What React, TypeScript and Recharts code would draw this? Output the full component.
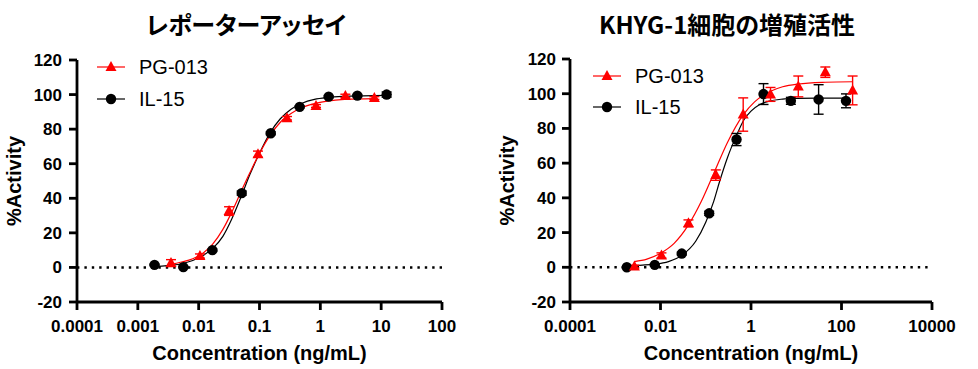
import { ComposedChart, Line, Scatter, XAxis, YAxis, ErrorBar, ReferenceLine } from 'recharts'

const RED = '#FF0000'
const BLACK = '#000000'
const FONT = '"Liberation Sans", Arial, sans-serif'
const CJK = '"Noto Sans CJK JP", "Noto Sans", sans-serif'

// --- レポーターアッセイ (measured points) ---
const reporterPgX = [0.00351, 0.0105, 0.0316, 0.0944, 0.283, 0.849, 2.58, 7.73]
const reporterPgY = [2.5, 6.6, 32.6, 65.5, 86.3, 93.4, 99.2, 98]
const reporterPgErr = [2, 1.2, 2.5, 1.8, 1, 0.8, 1, 0.8]
const reporterIlX = [0.00188, 0.0056, 0.0168, 0.051, 0.153, 0.457, 1.37, 4.06, 12.3]
const reporterIlY = [1.5, 0.2, 10, 43, 77.6, 92.9, 98.8, 99.4, 100]
const reporterIlErr = [0.4, 0.4, 0.6, 1.2, 0.8, 0.6, 0.6, 0.6, 1.5]

// fitted curves
const reporterPgFitX = [0.0035, 0.005, 0.008, 0.012, 0.017, 0.025, 0.035, 0.05, 0.07, 0.1, 0.15, 0.22, 0.33, 0.5, 0.8, 1.3, 2.5, 7.73]
const reporterPgFitY = [1.8, 3, 5, 8.5, 13.5, 22, 32, 44, 55, 66, 76.5, 84, 89, 92.5, 94.8, 96.2, 97.2, 97.7]
const reporterIlFitX = [0.00188, 0.003, 0.005, 0.008, 0.012, 0.017, 0.025, 0.035, 0.05, 0.07, 0.1, 0.15, 0.22, 0.33, 0.5, 0.8, 1.3, 2.5, 5, 12.3]
const reporterIlFitY = [0.5, 1, 2, 4, 7, 11, 18, 28, 41, 54, 66, 78, 86, 91.5, 95, 97.2, 98.3, 99, 99.3, 99.5]

// --- KHYG-1細胞の増殖活性 (measured points) ---
const khygPgX = [0.00265, 0.0105, 0.0415, 0.167, 0.672, 2.7, 11.1, 43.9, 176]
const khygPgY = [0.4, 6.8, 25.3, 53.1, 88, 99.6, 104.2, 112.4, 101.9]
const khygPgErr = [0.8, 1.5, 2, 3, 9.6, 4, 6, 3, 8.3]
const khygIlX = [0.0018, 0.00747, 0.0295, 0.119, 0.479, 1.89, 7.6, 31.2, 125.6]
const khygIlY = [0, 1.4, 7.9, 31.1, 73.6, 99.8, 95.9, 96.7, 95.9]
const khygIlErr = [0.4, 0.6, 0.8, 1.2, 3.5, 6, 2, 8.5, 4]

const khygPgFitX = [0.00265, 0.005, 0.0105, 0.02, 0.0415, 0.08, 0.15, 0.3, 0.672, 1.2, 2.7, 5, 11.1, 44, 176]
const khygPgFitY = [3.3, 4.7, 8.4, 13.8, 24.4, 38, 54, 71.8, 87.8, 95.3, 101.4, 104, 105.6, 106.6, 106.9]
const khygIlFitX = [0.0018, 0.004, 0.0075, 0.015, 0.03, 0.06, 0.1, 0.15, 0.2, 0.3, 0.479, 0.7, 1, 1.5, 2.5, 5, 10, 30, 125.6]
const khygIlFitY = [1, 1.3, 1.8, 3.3, 7, 15, 26, 38, 49, 63, 76, 85, 90, 93.5, 95.7, 96.9, 97.3, 97.5, 97.5]

const yTicks = [-20, 0, 20, 40, 60, 80, 100, 120]
const reporterXTicks = [0.0001, 0.001, 0.01, 0.1, 1, 10, 100]
const khygXTicks = [0.0001, 0.01, 1, 100, 10000]

type Pt = { x: number; y: number; err?: number }

const toPoints = (xs: number[], ys: number[], errs?: number[]): Pt[] =>
  xs.map((x, i) => ({ x, y: ys[i], err: errs ? errs[i] : undefined }))

const Circle = (props: any) => <circle cx={props.cx} cy={props.cy} r={5.2} fill={BLACK} />
const Triangle = (props: any) => {
  const { cx, cy } = props
  return <polygon points={`${cx},${cy - 6} ${cx + 5.5},${cy + 4} ${cx - 5.5},${cy + 4}`} fill={RED} />
}

function LegendMark({ color, kind }: { color: string; kind: 'tri' | 'dot' }) {
  return (
    <svg width={28} height={14} style={{ display: 'block' }}>
      <line x1={0} y1={7} x2={28} y2={7} stroke={color} strokeWidth={1.2} />
      {kind === 'tri' ? (
        <polygon points="14,1 19.5,11 8.5,11" fill={color} />
      ) : (
        <circle cx={14} cy={7} r={5.2} fill={color} />
      )}
    </svg>
  )
}

interface PanelProps {
  left: number
  title: string
  titleCenter: number
  xTicks: number[]
  yAxisWidth: number
  rightMargin: number
  topMargin: number
  yLabelOffset: number
  yTickMargin: number
  legendX: number
  legendY: number
  legendGap: number
  pg: Pt[]
  il: Pt[]
  pgFit: Pt[]
  ilFit: Pt[]
}

function Panel(p: PanelProps) {
  const tickStyle = { fill: BLACK, fontSize: 17, fontWeight: 700, fontFamily: FONT }
  return (
    <div style={{ position: 'absolute', left: p.left, top: 0, width: 489, height: 369 }}>
      <div
        style={{
          position: 'absolute',
          left: 0,
          top: 9,
          width: p.titleCenter * 2,
          textAlign: 'center',
          fontFamily: CJK,
          fontWeight: 700,
          fontSize: 24,
          lineHeight: '30px',
          fontFeatureSettings: '"palt"',
          whiteSpace: 'nowrap',
        }}
      >
        {p.title}
      </div>
      <ComposedChart
        width={489}
        height={369}
        margin={{ top: p.topMargin, right: p.rightMargin, bottom: 0, left: 0 }}
      >
        <XAxis
          type="number"
          dataKey="x"
          scale="log"
          domain={[p.xTicks[0], p.xTicks[p.xTicks.length - 1]]}
          ticks={p.xTicks}
          interval={0}
          allowDataOverflow
          height={67}
          tickSize={8}
          tickMargin={10}
          tick={tickStyle}
          axisLine={{ stroke: BLACK, strokeWidth: 2.8 }}
          tickLine={{ stroke: BLACK, strokeWidth: 2.8 }}
          label={{
            value: 'Concentration (ng/mL)',
            position: 'insideBottom',
            offset: 9,
            style: { fill: BLACK, fontSize: 20, fontWeight: 700, fontFamily: FONT },
          }}
        />
        <YAxis
          type="number"
          domain={[-20, 120]}
          ticks={yTicks}
          interval={0}
          width={p.yAxisWidth}
          tickSize={8}
          tickMargin={p.yTickMargin}
          tick={tickStyle}
          axisLine={{ stroke: BLACK, strokeWidth: 2.8 }}
          tickLine={{ stroke: BLACK, strokeWidth: 2.8 }}
          label={{
            value: '%Activity',
            angle: -90,
            position: 'insideLeft',
            offset: p.yLabelOffset,
            style: { textAnchor: 'middle', fill: BLACK, fontSize: 20, fontWeight: 700, fontFamily: FONT },
          }}
        />
        <ReferenceLine y={0} stroke={BLACK} strokeWidth={2.4} strokeDasharray="2.4 5" />
        <Line
          data={p.ilFit}
          dataKey="y"
          type="monotone"
          stroke={BLACK}
          strokeWidth={1.2}
          dot={false}
          activeDot={false}
          isAnimationActive={false}
        />
        <Line
          data={p.pgFit}
          dataKey="y"
          type="monotone"
          stroke={RED}
          strokeWidth={1.2}
          dot={false}
          activeDot={false}
          isAnimationActive={false}
        />
        <Scatter data={p.il} dataKey="y" shape={Circle} isAnimationActive={false}>
          <ErrorBar dataKey="err" direction="y" width={5} stroke={BLACK} strokeWidth={1.4} />
        </Scatter>
        <Scatter data={p.pg} dataKey="y" shape={Triangle} isAnimationActive={false}>
          <ErrorBar dataKey="err" direction="y" width={5} stroke={RED} strokeWidth={1.4} />
        </Scatter>
      </ComposedChart>
      <div
        style={{
          position: 'absolute',
          left: p.legendX,
          top: p.legendY,
          fontFamily: FONT,
          fontSize: 20,
          color: BLACK,
        }}
      >
        {[
          { name: 'PG-013', color: RED, kind: 'tri' as const },
          { name: 'IL-15', color: BLACK, kind: 'dot' as const },
        ].map((item, i) => (
          <div
            key={item.name}
            style={{ position: 'absolute', top: i * p.legendGap, display: 'flex', alignItems: 'center', whiteSpace: 'nowrap' }}
          >
            <LegendMark color={item.color} kind={item.kind} />
            <span style={{ marginLeft: 14, lineHeight: '20px' }}>{item.name}</span>
          </div>
        ))}
      </div>
    </div>
  )
}

export default function App() {
  return (
    <div style={{ position: 'absolute', left: 0, top: 0, width: 978, height: 369, background: '#fff' }}>
      <Panel
        left={0}
        title="レポーターアッセイ"
        titleCenter={246}
        xTicks={reporterXTicks}
        yAxisWidth={77}
        rightMargin={47}
        topMargin={60}
        yLabelOffset={14}
        yTickMargin={7}
        legendX={97}
        legendY={57}
        legendGap={32}
        pg={toPoints(reporterPgX, reporterPgY, reporterPgErr)}
        il={toPoints(reporterIlX, reporterIlY, reporterIlErr)}
        pgFit={toPoints(reporterPgFitX, reporterPgFitY)}
        ilFit={toPoints(reporterIlFitX, reporterIlFitY)}
      />
      <Panel
        left={489}
        title="KHYG-1細胞の増殖活性"
        titleCenter={238}
        xTicks={khygXTicks}
        yAxisWidth={81}
        rightMargin={46}
        topMargin={59}
        yLabelOffset={18}
        yTickMargin={6}
        legendX={104}
        legendY={66}
        legendGap={31}
        pg={toPoints(khygPgX, khygPgY, khygPgErr)}
        il={toPoints(khygIlX, khygIlY, khygIlErr)}
        pgFit={toPoints(khygPgFitX, khygPgFitY)}
        ilFit={toPoints(khygIlFitX, khygIlFitY)}
      />
    </div>
  )
}
